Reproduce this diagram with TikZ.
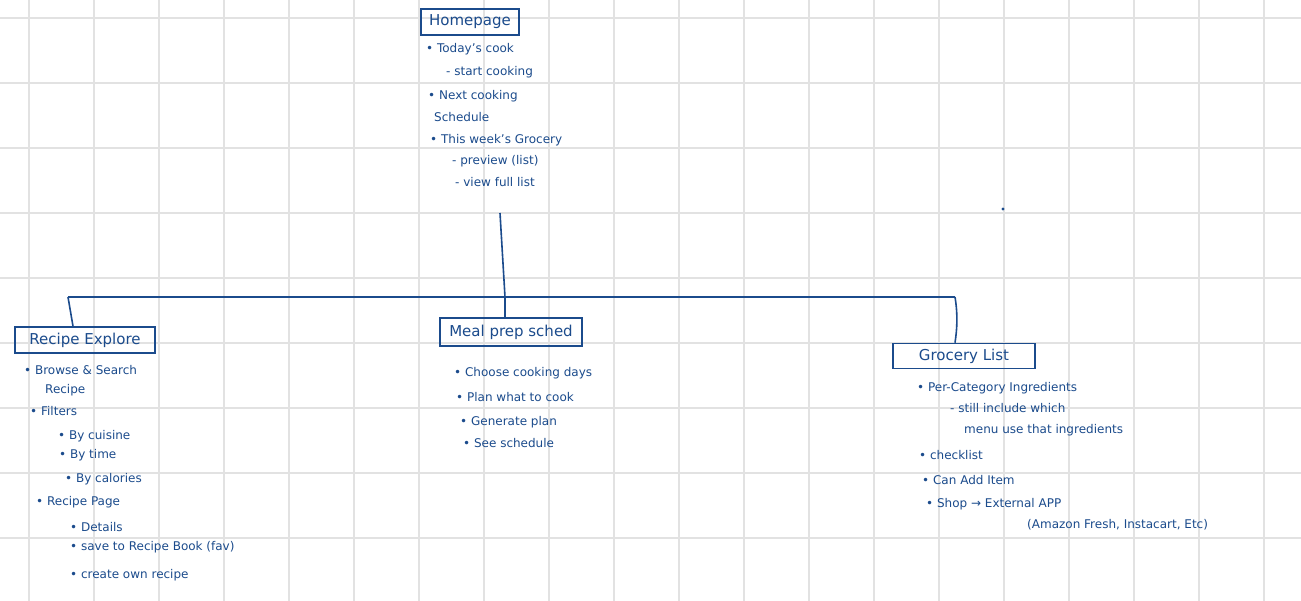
\documentclass[tikz,border=0pt]{standalone}
\usepackage{fontspec}
\setmainfont{DejaVu Sans}
\definecolor{ink}{HTML}{1B4B8C}
\definecolor{gridc}{HTML}{E2E2E2}
\begin{document}
\begin{tikzpicture}[x=1pt,y=-1pt,
  box/.style={draw=ink,line width=1.6pt,text=ink,font=\fontsize{15}{17}\selectfont,inner sep=3pt},
  it/.style={text=ink,anchor=west,font=\fontsize{12}{14}\selectfont,inner sep=0pt},
  ln/.style={draw=ink,line width=1.6pt}]
\useasboundingbox (0,0) rectangle (1301,601);
\fill[white] (0,0) rectangle (1301,601);
\foreach \x in {0,...,19} \draw[gridc,line width=1.5pt] (29+65*\x,0) -- (29+65*\x,601);
\foreach \y in {0,...,9} \draw[gridc,line width=1.5pt] (0,18+65*\y) -- (1301,18+65*\y);
% boxes
\node[box,minimum width=98pt,minimum height=26pt] (home) at (470,22) {Homepage};
\node[box,minimum width=140pt,minimum height=26pt] (rec) at (85,340) {Recipe Explore};
\node[box,minimum width=142pt,minimum height=28pt] (meal) at (511,332) {Meal prep sched};
\node[box,minimum width=142pt,minimum height=25pt] (groc) at (964,356) {Grocery List};
% homepage items
\node[it] (h1) at (426,49) {• Today's cook};
\node[it] (h2) at (446,72) {- start cooking};
\node[it] (h3) at (428,96) {• Next cooking};
\node[it] (h4) at (434,117) {Schedule};
\node[it] (h5) at (430,140) {• This week's Grocery};
\node[it] (h6) at (452,161) {- preview (list)};
\node[it] (h7) at (455,182) {- view full list};
% connectors
\coordinate (hs) at (500,213);
\coordinate (j) at (505,297);
\coordinate (l) at (68,297);
\coordinate (r) at (955,297);
\draw[ln] (hs) -- (j);
\draw[ln] (l) -- (r);
\draw[ln] (l) -- (rec.north -| 73,0);
\draw[ln] (j) -- (meal.north -| j);
\draw[ln] (r) .. controls (958,315) and (957,330) .. (groc.north -| 955,0);
% recipe items
\node[it] (r1) at (24,370) {• Browse \& Search};
\node[it] (r2) at (45,390) {Recipe};
\node[it] (r3) at (30,411) {• Filters};
\node[it] (r4) at (58,436) {• By cuisine};
\node[it] (r5) at (59,455) {• By time};
\node[it] (r6) at (65,479) {• By calories};
\node[it] (r7) at (36,502) {• Recipe Page};
\node[it] (r8) at (70,527) {• Details};
\node[it] (r9) at (70,547) {• save to Recipe Book (fav)};
\node[it] (r10) at (70,575) {• create own recipe};
% meal items
\node[it] (m1) at (454,373) {• Choose cooking days};
\node[it] (m2) at (456,397) {• Plan what to cook};
\node[it] (m3) at (460,422) {• Generate plan};
\node[it] (m4) at (463,443) {• See schedule};
% grocery items
\node[it] (g1) at (917,388) {• Per-Category Ingredients};
\node[it] (g2) at (950,408) {- still include which};
\node[it] (g3) at (964,430) {menu use that ingredients};
\node[it] (g4) at (919,455) {• checklist};
\node[it] (g5) at (922,480) {• Can Add Item};
\node[it] (g6) at (926,504) {• Shop → External APP};
\node[it] (g7) at (1027,525) {(Amazon Fresh, Instacart, Etc)};
\fill[ink] (1003,209) circle (1.6pt);
\end{tikzpicture}
\end{document}
